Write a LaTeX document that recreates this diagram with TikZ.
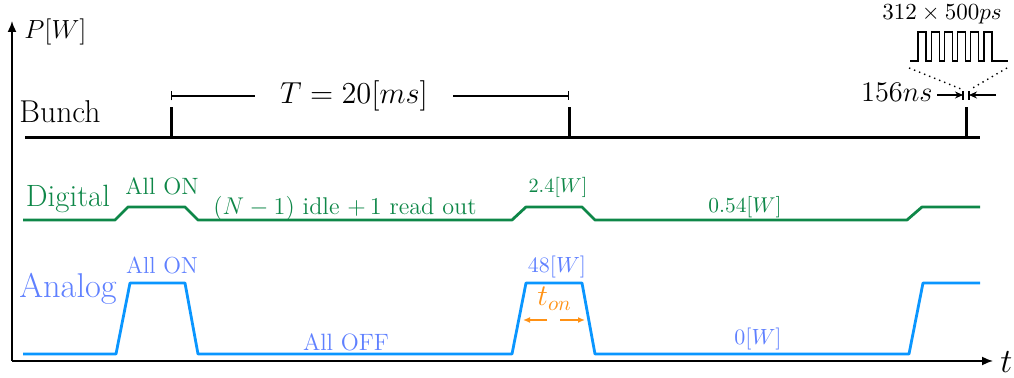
\RequirePackage{fix-cm}
\documentclass[tikz,border=0pt]{standalone}
\usetikzlibrary{arrows.meta}
\definecolor{dgreen}{RGB}{14,135,72}
\definecolor{ablue}{RGB}{10,150,255}
\definecolor{atext}{RGB}{95,128,255}
\definecolor{torange}{RGB}{255,145,20}
\newcommand{\fs}[1]{\fontsize{#1}{#1}\selectfont}
\begin{document}
\begin{tikzpicture}[x=0.5pt,y=-0.5pt,
  sig/.style={line width=1.4pt,line join=round},
  axis/.style={line width=0.8pt},
  thin/.style={line width=0.55pt},
  txt/.style={inner sep=0pt,anchor=base}]
\useasboundingbox (0,0) rectangle (1014,378);
% axes
\coordinate (o) at (12,361);
\coordinate (ytip) at (12,21);
\coordinate (xtip) at (993,361);
\draw[axis,-{Latex[length=5.5pt,width=4.5pt]}] (o) -- (ytip);
\draw[axis,-{Latex[length=5.5pt,width=4.5pt]}] (o) -- (xtip);
\node[txt,anchor=base west] (plab) at (24,39) {\fs{13.1}$P[W]$};
\node[txt,anchor=base west] (tlab) at (1000,373) {\fs{17}$t$};
% bunch
\coordinate (b0) at (25,138);
\coordinate (b1) at (980,138);
\draw[line width=1.5pt] (b0) -- (b1);
\coordinate (k1) at (171,138); \coordinate (k1t) at (171,107);
\coordinate (k2) at (569,138); \coordinate (k2t) at (569,107);
\coordinate (k3) at (966,138); \coordinate (k3t) at (966,107);
\draw[line width=1.5pt] (k1) -- (k1t) (k2) -- (k2t) (k3) -- (k3t);
\node[txt] (bunch) at (60,123) {\fs{15.8}Bunch};
% period bracket
\coordinate (Ta) at (171,96);
\coordinate (Tl) at (255,96);
\coordinate (Tr) at (453,96);
\coordinate (Tb) at (569,96);
\draw[thin,{Bar[width=4.5pt]}-] (Ta) -- (Tl);
\draw[thin,-{Bar[width=4.5pt]}] (Tr) -- (Tb);
\node[txt] (T) at (354,104) {\fs{15.2}$T=20[ms]$};
% 156 ns
\coordinate (la) at (937,95); \coordinate (lb) at (963,95);
\coordinate (ra) at (996,95); \coordinate (rb) at (969,95);
\draw[thin,-{Stealth[length=4pt,width=3.5pt]}] (la) -- (lb);
\draw[thin,-{Stealth[length=4pt,width=3.5pt]}] (ra) -- (rb);
\draw[thin] (963,91) -- (963,100) (969,91) -- (969,100);
\node[txt,anchor=base east] (ns) at (933,102) {\fs{14.2}$156ns$};
% pulse train
\draw[thin] (910,61) foreach \k in {0,...,5} { -- ({918+13.2*\k},61) -- ({918+13.2*\k},32) -- ({926+13.2*\k},32) -- ({926+13.2*\k},61) } -- (1008,61);
\draw[dotted,line width=0.7pt] (909,68) -- (961,89);
\draw[dotted,line width=0.7pt] (1007,68) -- (971,89);
\node[txt] (ps) at (942,20) {\fs{11.5}$312\times 500ps$};
% digital
\draw[sig,dgreen] (23,220) -- (115,220) -- (128,207) -- (185,207) -- (198,220) -- (512,220) -- (526,207) -- (582,207) -- (595,220) -- (907,220) -- (922,207) -- (980,207);
\node[txt,text=dgreen] (dig) at (68,207) {\fs{15.4}Digital};
\node[txt,text=dgreen] (don) at (162,195) {\fs{11.8}All ON};
\node[txt,text=dgreen] (didle) at (345,215) {\fs{12.1}$(N-1)$ idle $+\,1$ read out};
\node[txt,text=dgreen] (d24) at (558,193) {\fs{10.1}$2.4[W]$};
\node[txt,text=dgreen] (d054) at (745,213) {\fs{10.7}$0.54[W]$};
% analog
\draw[sig,ablue] (23,354) -- (116,354) -- (130,283) -- (185,283) -- (198,354) -- (512,354) -- (526,283) -- (582,283) -- (595,354) -- (909,354) -- (923,283) -- (980,283);
\node[txt,text=atext] (ana) at (68,298) {\fs{17.2}Analog};
\node[txt,text=atext] (aon) at (162,274) {\fs{11.6}All ON};
\node[txt,text=atext] (a48) at (557,273) {\fs{11}$48[W]$};
\node[txt,text=atext] (aoff) at (346,351) {\fs{11.8}All OFF};
\node[txt,text=atext] (a0) at (758,345) {\fs{11}$0[W]$};
% t_on
\node[txt,anchor=base west,text=torange] (ton) at (537,306) {\fs{15}$t_{on}$};
\coordinate (o1) at (547,320); \coordinate (o2) at (523,320);
\coordinate (o3) at (560,320); \coordinate (o4) at (585,320);
\draw[torange,line width=0.7pt,-{Latex[length=3.5pt,width=3pt]}] (o1) -- (o2);
\draw[torange,line width=0.7pt,-{Latex[length=3.5pt,width=3pt]}] (o3) -- (o4);
\end{tikzpicture}
\end{document}
